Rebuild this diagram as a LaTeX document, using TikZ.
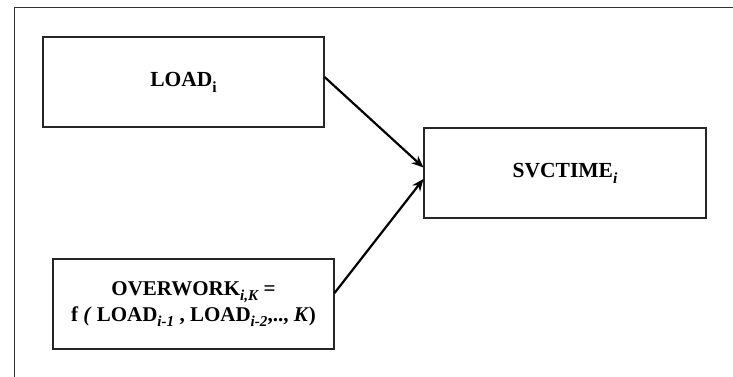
\documentclass[tikz,border=0pt]{standalone}
\usepackage{fontspec}
\setmainfont{Liberation Serif}
\usetikzlibrary{arrows.meta,calc}
\newcommand\mysub[1]{\raisebox{-0.28em}{\scalebox{0.72}{#1}}}
\tikzset{
  box/.style={draw=black!85, line width=1.1pt, minimum width=281pt, minimum height=90pt, inner sep=0pt, align=center, font=\bfseries\fontsize{21.5}{26}\selectfont},
  conn/.style={line width=2.2pt, -{Stealth[length=12pt,width=10pt]}},
  frame/.style={draw=black!80, line width=1pt}
}
\begin{document}
\begin{tikzpicture}[x=1pt,y=-1pt]
\useasboundingbox (0,0) rectangle (733,377);
\draw[frame] (14,377) -- (14,8) -- (733,8);
\node[box] (load) at (183.5,82) {LOAD\mysub{i}};
\node[box, minimum width=282pt] (svc) at (565,173) {SVCTIME\mysub{\itshape i}};
\node[box, font=\bfseries\fontsize{21}{26}\selectfont] (over) at (193.5,304) {OVERWORK\mysub{\itshape i,K} =\\f \textit{(} LOAD\mysub{\itshape i-1} , LOAD\mysub{\itshape i-2},.., \textit{K})};
\draw[conn] ($(load.east)+(0,-5)$) -- ($(svc.west)+(0,-5.5)$);
\draw[conn] ($(over.east)+(0,-11)$) -- ($(svc.west)+(0,6)$);
\end{tikzpicture}
\end{document}
